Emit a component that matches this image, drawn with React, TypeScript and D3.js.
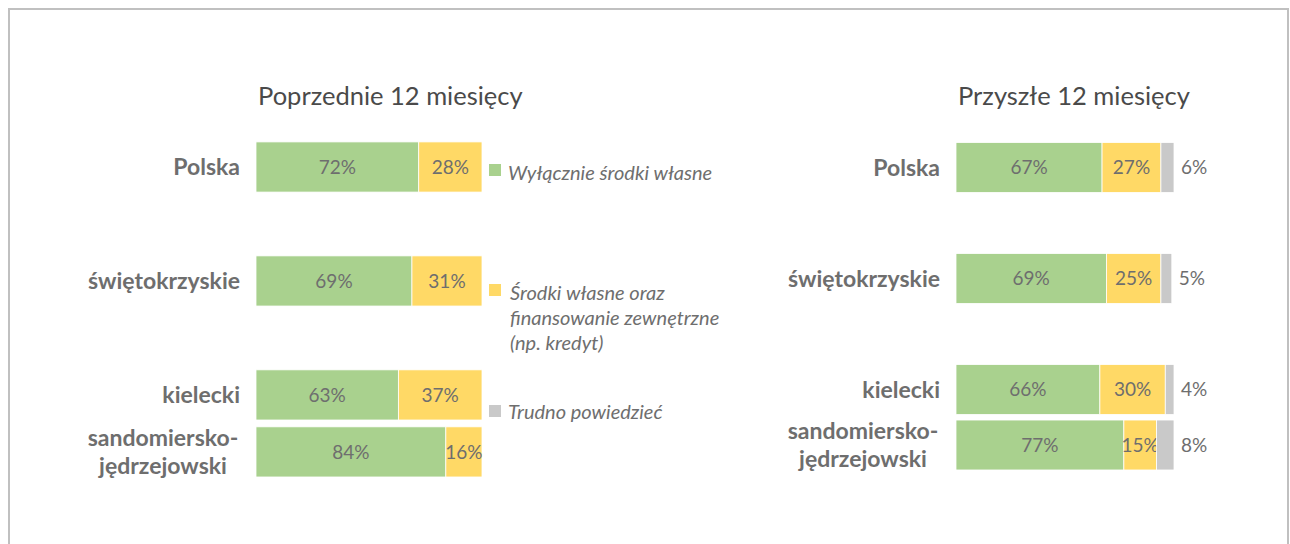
import React from "react";
import * as d3 from "d3";

const categories = ["Polska", "świętokrzyskie", "kielecki", "sandomiersko-jędrzejowski"];
const slots = ["Polska", "_a", "świętokrzyskie", "_b", "kielecki", "sandomiersko-jędrzejowski"];
const prevOwn = [72, 69, 63, 84];
const prevMixed = [28, 31, 37, 16];
const prevHard = [0, 0, 0, 0];
const nextOwn = [67, 69, 66, 77];
const nextMixed = [27, 25, 30, 15];
const nextHard = [6, 5, 4, 8];
const titles = ["Poprzednie 12 miesięcy", "Przyszłe 12 miesięcy"];
const legendLabels = [["Wyłącznie środki własne"], ["Środki własne oraz", "finansowanie zewnętrzne", "(np. kredyt)"], ["Trudno powiedzieć"]];

const colors = ["#a9d18e", "#ffd966", "#c9c9c9"];
const textGray = "#6e6e6e";
const FONT = "Lato, 'Open Sans', sans-serif";

type PanelProps = {
  x0: number; x1: number; yTop: number; yBottom: number; pad: number; labelRight: number;
  own: number[]; mixed: number[]; hard: number[]; title: string; showHardLabels: boolean;
};

function Panel({ x0, x1, yTop, yBottom, pad, labelRight, own, mixed, hard, title, showHardLabels }: PanelProps) {
  const x = d3.scaleLinear().domain([0, 100]).range([x0, x1]);
  const y = d3.scaleBand<string>().domain(slots).range([yTop, yBottom]).paddingInner(pad).paddingOuter(pad / 2);
  const rows = categories.map((c, i) => ({ c, vals: [own[i], mixed[i], hard[i]] }));
  const stack = d3.stack<any>().keys(["0", "1", "2"]).value((d: any, k: string) => d.vals[+k]);
  const series = stack(rows as any);
  return (
    <g>
      <text x={x0 + 2} y={105} fontFamily={FONT} fontSize={25.5} fill="#4a4a4a">{title}</text>
      {series.map((s, si) => (
        <g key={si}>
          {s.map((d, i) => {
            const cat = categories[i];
            const v = d[1] - d[0];
            if (v <= 0) return null;
            const yy = y(cat)!;
            const h = y.bandwidth();
            const cx = (x(d[0]) + x(d[1])) / 2;
            return (
              <g key={i}>
                <rect x={x(d[0])} y={yy} width={x(d[1]) - x(d[0])} height={h} fill={colors[si]} stroke="#ffffff" strokeWidth={0.8} />
                {si < 2 && (
                  <text x={cx} y={yy + h / 2} dy="0.35em" textAnchor="middle" fontFamily={FONT} fontSize={19} fill={textGray}>{v}%</text>
                )}
                {si === 2 && showHardLabels && (
                  <text x={x(d[1]) + 7} y={yy + h / 2} dy="0.35em" textAnchor="start" fontFamily={FONT} fontSize={19} fill={textGray}>{v}%</text>
                )}
              </g>
            );
          })}
        </g>
      ))}
      {categories.map((c) => {
        const cy = y(c)! + y.bandwidth() / 2;
        if (c.includes("-")) {
          const [a, b] = c.split("-");
          return (
            <g key={c} fontFamily={FONT} fontSize={23} fontWeight="bold" fill={textGray} textAnchor="middle">
              <text x={labelRight - 77} y={cy - 14} dy="0.35em">{a + "-"}</text>
              <text x={labelRight - 77} y={cy + 14} dy="0.35em">{b}</text>
            </g>
          );
        }
        return (
          <text key={c} x={labelRight} y={cy} dy="0.35em" textAnchor="end" fontFamily={FONT} fontSize={23} fontWeight="bold" fill={textGray}>{c}</text>
        );
      })}
    </g>
  );
}

export default function App() {
  const legendX = 489;
  const legendY = [170, 290, 411];
  const textOffset = [3, 3, 1];
  return (
    <svg width={1290} height={544} style={{ position: "absolute", left: 0, top: 0, background: "#fff" }}>
      <rect x={9} y={9} width={1279} height={600} fill="none" stroke="#c0c0c0" strokeWidth={2} />
      <Panel x0={256} x1={482} yTop={138.5} yBottom={480.4} pad={0.12} labelRight={240} own={prevOwn} mixed={prevMixed} hard={prevHard} title={titles[0]} showHardLabels={false} />
      <Panel x0={956} x1={1174} yTop={139.75} yBottom={472.75} pad={0.1} labelRight={940} own={nextOwn} mixed={nextMixed} hard={nextHard} title={titles[1]} showHardLabels={true} />
      {legendLabels.map((lines, i) => (
        <g key={i}>
          <rect x={legendX} y={legendY[i] - 6} width={12} height={12} fill={colors[i]} />
          {lines.map((ln, j) => (
            <text key={j} x={legendX + (i === 1 ? 21 : 19)} y={legendY[i] + textOffset[i] + j * 25} dy="0.35em" fontFamily={FONT} fontStyle="italic" fontSize={20} fill={textGray}>{ln}</text>
          ))}
        </g>
      ))}
    </svg>
  );
}
